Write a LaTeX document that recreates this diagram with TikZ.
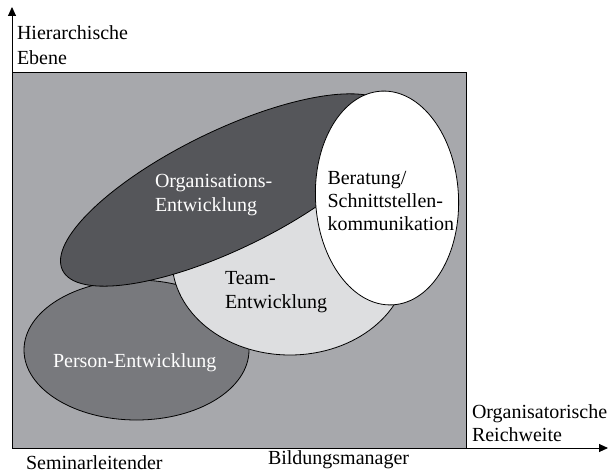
\documentclass[tikz,border=0pt]{standalone}
\usepackage{fontspec}
\setmainfont{Liberation Serif}
\usetikzlibrary{arrows.meta}
\definecolor{rectgray}{HTML}{A7A8AC}
\definecolor{persongray}{HTML}{78797D}
\definecolor{orggray}{HTML}{55565A}
\definecolor{teamgray}{HTML}{DDDEE0}
\tikzset{
  lbl/.style={inner sep=0pt, outer sep=0pt, align=left, font=\fontsize{20}{24}\selectfont},
  lblw/.style={lbl, text=white},
  blob/.style={draw=black, line width=0.8pt},
  axis/.style={line width=0.9pt, -{Triangle[length=9pt,width=8pt]}}
}
\begin{document}
\begin{tikzpicture}[x=1pt,y=1pt]
\useasboundingbox (0,0) rectangle (610,472);
% field
\filldraw[fill=rectgray, draw=black, line width=0.9pt] (12,24) rectangle (466,400);
% ellipses (image y -> 472-y)
\filldraw[blob, fill=persongray] (136.5,122) ellipse [x radius=112.5, y radius=70];
\filldraw[blob, fill=teamgray] (290,212) ellipse [x radius=118, y radius=95];
\filldraw[blob, fill=orggray, rotate around={26:(227,282)}] (227,282) ellipse [x radius=183, y radius=59];
\filldraw[blob, fill=white, rotate around={3:(387,274)}] (387,274) ellipse [x radius=71.5, y radius=107];
% axes
\coordinate (O) at (12,24);
\coordinate (ytip) at (12,465);
\coordinate (xtip) at (608,24);
\draw[axis] (O) -- (ytip);
\draw[axis] (O) -- (xtip);
% labels
\node[lblw, anchor=west] (org) at (155,276.7) {Organisations-\\Entwicklung};
\node[lbl, anchor=west] (team) at (225,179.4) {Team-\\Entwicklung};
\node[lbl, anchor=west, font=\fontsize{20}{23}\selectfont] (ber) at (327.5,270.7) {Beratung/\\Schnittstellen-\\kommunikation};
\node[lblw, anchor=base west] (pers) at (53,105) {Person-Entwicklung};
\node[lbl, anchor=west, font=\fontsize{20}{25}\selectfont] (hier) at (17,427.3) {Hierarchische\\Ebene};
\node[lbl, anchor=west, font=\fontsize{20}{23}\selectfont] (reich) at (472,49.3) {Organisatorische\\Reichweite};
\node[lbl, anchor=base west] (sem) at (26,3) {Seminarleitender};
\node[lbl, anchor=base west] (bild) at (268,8) {Bildungsmanager};
\end{tikzpicture}
\end{document}
